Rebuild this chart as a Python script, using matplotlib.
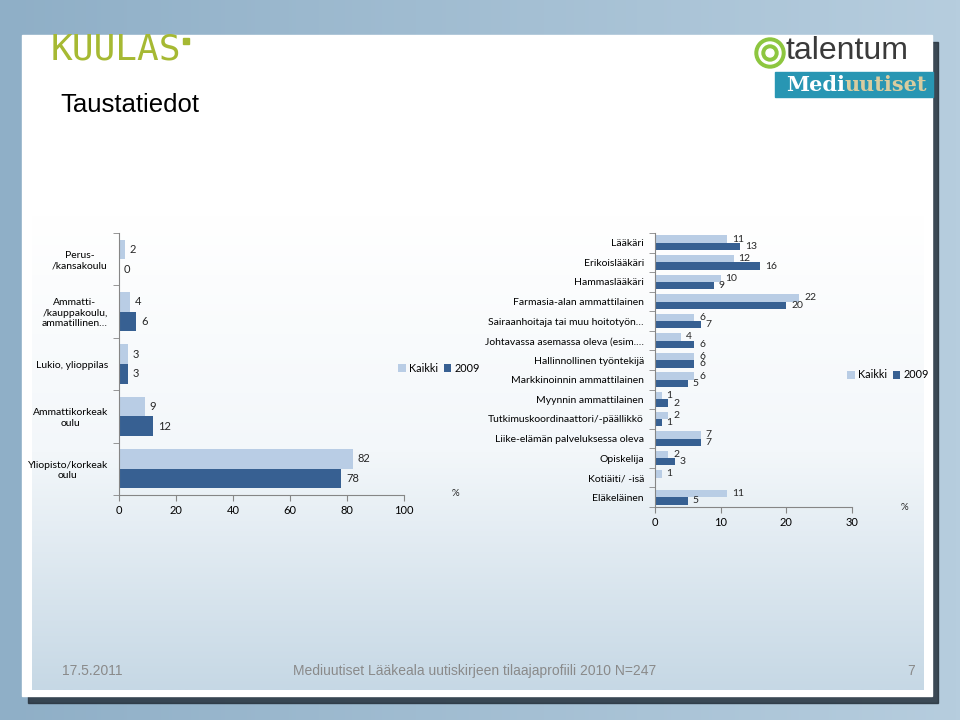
import matplotlib
matplotlib.use('Agg')
import matplotlib.pyplot as plt
import numpy as np
from matplotlib.patches import Rectangle, Circle
from matplotlib.colors import LinearSegmentedColormap

# education chart
edu_labels = ['Perus-\n/kansakoulu', 'Ammatti-\n/kauppakoulu,\nammatillinen…', 'Lukio, ylioppilas',
              'Ammattikorkeak\noulu', 'Yliopisto/korkeak\noulu']
edu_kaikki = [2, 4, 3, 9, 82]
edu_2009 = [0, 6, 3, 12, 78]

# occupation chart
job_labels = ['Lääkäri', 'Erikoislääkäri', 'Hammaslääkäri', 'Farmasia-alan ammattilainen',
              'Sairaanhoitaja tai muu hoitotyön…', 'Johtavassa asemassa oleva (esim.…',
              'Hallinnollinen työntekijä', 'Markkinoinnin ammattilainen', 'Myynnin ammattilainen',
              'Tutkimuskoordinaattori/-päällikkö', 'Liike-elämän palveluksessa oleva',
              'Opiskelija', 'Kotiäiti/ -isä', 'Eläkeläinen']
job_kaikki = [11, 12, 10, 22, 6, 4, 6, 6, 1, 2, 7, 2, 1, 11]
job_2009 = [13, 16, 9, 20, 7, 6, 6, 5, 2, 1, 7, 3, 0, 5]

series_names = ['Kaikki', '2009']
light = '#b9cde5'
dark = '#376092'
chart_font = 'Lato'

fig = plt.figure(figsize=(9.6, 7.2), dpi=100)

# slide background
bg = fig.add_axes([0, 0, 1, 1], zorder=-5)
bg.set_xlim(0, 960)
bg.set_ylim(720, 0)
bg.axis('off')
cm_bg = LinearSegmentedColormap.from_list('bg', ['#8fafc7', '#b6cdde'])
bg.imshow(np.linspace(0, 1, 256).reshape(1, -1), cmap=cm_bg, aspect='auto',
          extent=[0, 960, 720, 0], zorder=0)
bg.add_patch(Rectangle((28, 42), 910, 661, color='#26323d', alpha=0.85, zorder=1))
bg.add_patch(Rectangle((22, 35), 910, 661, color='white', zorder=2))
cm_in = LinearSegmentedColormap.from_list('inner', ['#ffffff', '#f3f7fa', '#c6d8e5'])
bg.imshow(np.linspace(0, 1, 256).reshape(-1, 1), cmap=cm_in, aspect='auto',
          extent=[32, 924, 690, 215], zorder=3)

# logos and title
bg.text(51, 50, 'KUULAS', family='DejaVu Sans Mono', fontsize=26, color='#a6b933',
        va='center', ha='left', zorder=5)
bg.add_patch(Rectangle((183, 38), 6, 6, color='#a6b933', zorder=5))
for r, c in [(15, '#8dc63f'), (11, 'white'), (8, '#8dc63f'), (4, 'white')]:
    bg.add_patch(Circle((770, 53), r, color=c, zorder=5))
bg.text(786, 51, 'talentum', family='Liberation Sans', fontsize=23, color='#3a3a3a',
        va='center', ha='left', zorder=5)
bg.add_patch(Rectangle((775, 72), 158, 25, color='#2896b3', zorder=5))
bg.text(845, 85, 'Medi', family='DejaVu Serif', weight='bold', fontsize=15, color='white',
        va='center', ha='right', zorder=6)
bg.text(845, 85, 'uutiset', family='DejaVu Serif', weight='bold', fontsize=15, color='#d9cc9f',
        va='center', ha='left', zorder=6)
bg.text(60, 105, 'Taustatiedot', family='Liberation Sans', fontsize=18.5, color='black',
        va='center', ha='left', zorder=5)

# footer
bg.text(62, 671, '17.5.2011', family='Liberation Sans', fontsize=10, color='#8a8a8a', va='center', zorder=5)
bg.text(475, 671, 'Mediuutiset Lääkeala uutiskirjeen tilaajaprofiili 2010 N=247', family='Liberation Sans',
        fontsize=10, color='#8a8a8a', va='center', ha='center', zorder=5)
bg.text(915, 671, '7', family='Liberation Sans', fontsize=10, color='#8a8a8a', va='center', ha='right', zorder=5)


def bar_chart(ax, labels, kaikki, v2009, xmax, step, skip_zero, lab_size):
    n = len(labels)
    y = np.arange(n)
    h = 0.375
    ax.barh(y - h / 2, kaikki, height=h, color=light, label=series_names[0])
    ax.barh(y + h / 2, v2009, height=h, color=dark, label=series_names[1])
    for yy, v in zip(y - h / 2, kaikki):
        ax.annotate(str(v), (v, yy), xytext=(3.5, 0), textcoords='offset points',
                    va='center', ha='left', fontsize=lab_size, family=chart_font, color='#262626')
    for yy, v in zip(y + h / 2, v2009):
        if skip_zero and v == 0:
            continue
        ax.annotate(str(v), (v, yy), xytext=(3.5, 0), textcoords='offset points',
                    va='center', ha='left', fontsize=lab_size, family=chart_font, color='#262626')
    ax.set_ylim(n - 0.5, -0.5)
    ax.set_xlim(0, xmax)
    ax.set_yticks(y)
    ax.set_yticklabels(labels, multialignment='center', family=chart_font, fontsize=7.5)
    ax.set_yticks(np.arange(n + 1) - 0.5, minor=True)
    ax.tick_params(axis='y', which='major', length=0, pad=8)
    ax.tick_params(axis='y', which='minor', length=4, color='#868686', direction='out')
    ax.set_xticks(np.arange(0, xmax + 1, step))
    ax.tick_params(axis='x', length=4, color='#868686', labelsize=8, pad=3)
    for lab in ax.get_xticklabels():
        lab.set_family(chart_font)
    for s in ['top', 'right']:
        ax.spines[s].set_visible(False)
    for s in ['left', 'bottom']:
        ax.spines[s].set_color('#868686')
    ax.patch.set_alpha(0)


ax1 = fig.add_axes([119 / 960, 1 - 495 / 720, 285 / 960, 262 / 720])
bar_chart(ax1, edu_labels, edu_kaikki, edu_2009, 100, 20, False, 8)
ax2 = fig.add_axes([655 / 960, 1 - 507 / 720, 197 / 960, 274 / 720])
bar_chart(ax2, job_labels, job_kaikki, job_2009, 30, 10, True, 7.5)

bg.text(455, 494, '%', family=chart_font, fontsize=7, color='#262626', ha='center', va='center', zorder=5)
bg.text(904, 508, '%', family=chart_font, fontsize=7, color='#262626', ha='center', va='center', zorder=5)

for ax, cx, cy in [(ax1, 439, 368), (ax2, 888, 375)]:
    ax.legend(loc='center', bbox_to_anchor=(cx / 960, 1 - cy / 720), bbox_transform=fig.transFigure,
              ncol=2, frameon=False, handlelength=0.7, handleheight=0.7, handletextpad=0.3,
              columnspacing=0.5, prop={'family': chart_font, 'size': 7.8}, borderpad=0)

fig.savefig('out.png', dpi=100)
